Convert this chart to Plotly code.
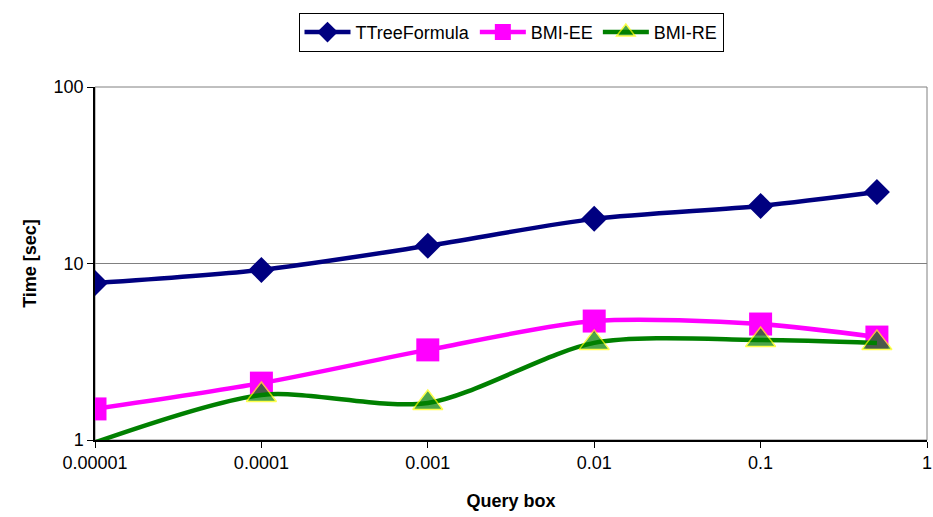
import plotly.graph_objects as go

query_box = [0.00001, 0.0001, 0.001, 0.01, 0.1, 0.5]
ttree = [7.75, 9.2, 12.6, 17.9, 21.2, 25.4]
bmi_ee = [1.5, 2.1, 3.24, 4.72, 4.54, 3.83]
bmi_re = [0.97, 1.8, 1.62, 3.55, 3.69, 3.55]
x_ticks = [0.00001, 0.0001, 0.001, 0.01, 0.1, 1]
x_tick_text = ["0.00001", "0.0001", "0.001", "0.01", "0.1", "1"]
y_ticks = [1, 10, 100]
y_tick_text = ["1", "10", "100"]

fig = go.Figure()
fig.add_trace(go.Scatter(
    x=query_box, y=ttree, name="TTreeFormula", mode="lines+markers",
    line=dict(color="#000080", width=4.5, shape="spline", smoothing=0.8),
    marker=dict(symbol="diamond", size=20, color="#000080"),
))
fig.add_trace(go.Scatter(
    x=query_box, y=bmi_ee, name="BMI-EE", mode="lines+markers",
    line=dict(color="#FF00FF", width=4.5, shape="spline", smoothing=0.8),
    marker=dict(symbol="square", size=23, color="#FF00FF"),
))
fig.add_trace(go.Scatter(
    x=query_box, y=bmi_re, name="BMI-RE", mode="lines+markers",
    line=dict(color="#008000", width=4.5, shape="spline", smoothing=0.8),
    marker=dict(symbol="triangle-up", size=[0, 26, 26, 26, 26, 26], color="#008000",
                line=dict(color="#FFFF00", width=1.5)),
))

fig.add_shape(type="rect", xref="paper", yref="paper", x0=0, x1=1, y0=0, y1=1,
              line=dict(color="#808080", width=1), layer="below")

fig.update_layout(
    width=933, height=517,
    margin=dict(l=95, r=6, t=87, b=77, autoexpand=False),
    paper_bgcolor="white", plot_bgcolor="white",
    font=dict(family="Arial, Liberation Sans, sans-serif", size=18, color="black"),
    showlegend=True,
    legend=dict(orientation="h", x=0.5, xanchor="center", y=1.21, yanchor="top",
                bordercolor="black", borderwidth=1, font=dict(size=18),
                itemwidth=46, tracegroupgap=0),
)
fig.update_xaxes(
    type="log", range=[-5, 0], tickvals=x_ticks, ticktext=x_tick_text,
    ticks="outside", ticklen=6, tickcolor="black", showgrid=False,
    showline=True, linecolor="black", linewidth=1.5, zeroline=False,
    tickfont=dict(size=18), automargin=False,
    title=dict(text="<b>Query box</b>", standoff=22, font=dict(size=18)),
)
fig.update_yaxes(
    type="log", range=[0, 2], tickvals=y_ticks, ticktext=y_tick_text,
    ticks="outside", ticklen=6, tickcolor="black", showgrid=True,
    gridcolor="#808080", gridwidth=1,
    showline=True, linecolor="black", linewidth=1.5, zeroline=False,
    tickfont=dict(size=18), automargin=False,
    title=dict(text="<b>Time [sec]</b>", standoff=12, font=dict(size=18)),
)

fig.write_html(
    "out.html",
    config={"displayModeBar": False},
    post_script="document.body.style.margin='0';document.body.style.overflow='hidden';",
)
